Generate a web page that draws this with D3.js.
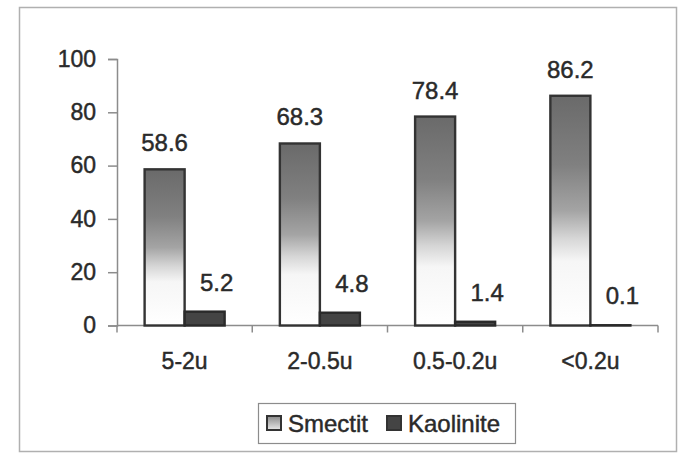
<!DOCTYPE html>
<html>
<head>
<meta charset="utf-8">
<script src="https://cdn.jsdelivr.net/npm/d3@7"></script>
<style>
  html, body { margin: 0; padding: 0; background: #fff; }
  svg { display: block; font-family: "Liberation Sans", Arial, sans-serif; }
  text { fill: #2a2a2a; stroke: #2a2a2a; stroke-width: 0.45px; }
</style>
</head>
<body>
<svg id="chart" width="679" height="459"></svg>
<script>
// Clay mineral content (%) by particle size fraction
const categories = ["5-2u", "2-0.5u", "0.5-0.2u", "<0.2u"];
const seriesNames = ["Smectit", "Kaolinite"];
const smectit = [58.6, 68.3, 78.4, 86.2];
const kaolinite = [5.2, 4.8, 1.4, 0.1];
const yTicks = [0, 20, 40, 60, 80, 100];

const svg = d3.select("#chart");

// chart frame
svg.append("rect")
  .attr("x", 19.5).attr("y", 7.5)
  .attr("width", 657).attr("height", 444)
  .attr("fill", "#fff").attr("stroke", "#b0b0b0").attr("stroke-width", 1.5);

const defs = svg.append("defs");
// vertical gradient for the Smectit bars
const grad = defs.append("linearGradient")
  .attr("id", "smGrad").attr("x1", 0).attr("y1", 0).attr("x2", 0).attr("y2", 1);
[[0, "#6a6a6a"], [0.3, "#808080"], [0.5, "#a4a4a4"], [0.62, "#d6d6d6"], [0.72, "#f6f6f6"], [1, "#ffffff"]]
  .forEach(([o, c]) => grad.append("stop").attr("offset", o).attr("stop-color", c));
// same shading for the legend swatch
const lgGrad = defs.append("linearGradient")
  .attr("id", "lgGrad").attr("x1", 0).attr("y1", 0).attr("x2", 0).attr("y2", 1);
[[0, "#8a8a8a"], [1, "#e8e8e8"]]
  .forEach(([o, c]) => lgGrad.append("stop").attr("offset", o).attr("stop-color", c));

const x0 = 117, x1 = 658, yTop = 59, yBase = 325.5;

const x = d3.scaleBand().domain(categories).range([x0, x1]).paddingInner(0).paddingOuter(0);
const xs = d3.scaleBand().domain(seriesNames).range([0, x.bandwidth()]).paddingInner(0).paddingOuter(0.69);
const y = d3.scaleLinear().domain([0, 100]).range([yBase, yTop]);

// y axis
const yAxis = svg.append("g")
  .attr("transform", `translate(${x0},0)`)
  .call(d3.axisLeft(y).tickValues(yTicks).tickSize(9).tickPadding(12));
yAxis.select(".domain").attr("stroke", "#8c8c8c").attr("stroke-width", 1.5);
yAxis.selectAll(".tick line").attr("stroke", "#8c8c8c").attr("stroke-width", 1.5);
yAxis.selectAll("text")
  .attr("font-size", 23).attr("fill", "#2a2a2a")
  .attr("font-family", "Liberation Sans, Arial, sans-serif");

// x axis with ticks at category boundaries
const xAxisG = svg.append("g");
xAxisG.append("line")
  .attr("x1", x0).attr("x2", x1).attr("y1", yBase).attr("y2", yBase)
  .attr("stroke", "#8c8c8c").attr("stroke-width", 1.5);
const bounds = categories.map(c => x(c)).concat([x1]);
xAxisG.selectAll("line.tk").data(bounds).join("line")
  .attr("class", "tk")
  .attr("x1", d => d).attr("x2", d => d)
  .attr("y1", yBase).attr("y2", yBase + 7)
  .attr("stroke", "#8c8c8c").attr("stroke-width", 1.5);
xAxisG.selectAll("text").data(categories).join("text")
  .attr("x", d => x(d) + x.bandwidth() / 2)
  .attr("y", 369)
  .attr("text-anchor", "middle")
  .attr("font-size", 23)
  .text(d => d);

// bars
const rows = categories.map((c, i) => ({ cat: c, Smectit: smectit[i], Kaolinite: kaolinite[i] }));
const groups = svg.append("g").selectAll("g").data(rows).join("g")
  .attr("transform", d => `translate(${x(d.cat)},0)`);

groups.append("rect")
  .attr("x", xs("Smectit")).attr("width", xs.bandwidth())
  .attr("y", d => y(d.Smectit)).attr("height", d => yBase - y(d.Smectit))
  .attr("fill", "url(#smGrad)").attr("stroke", "#333").attr("stroke-width", 2.4);

groups.append("rect")
  .attr("x", xs("Kaolinite")).attr("width", xs.bandwidth())
  .attr("y", d => y(d.Kaolinite)).attr("height", d => yBase - y(d.Kaolinite))
  .attr("fill", "#444").attr("stroke", "#2a2a2a").attr("stroke-width", 2.4);

// value labels
groups.append("text")
  .attr("x", xs("Smectit") + xs.bandwidth() / 2)
  .attr("y", d => y(d.Smectit) - 18)
  .attr("text-anchor", "middle").attr("font-size", 24)
  .text(d => d.Smectit.toFixed(1));

groups.append("text")
  .attr("x", xs("Kaolinite") + xs.bandwidth() / 2 + 12)
  .attr("y", d => y(d.Kaolinite) - 21)
  .attr("text-anchor", "middle").attr("font-size", 24)
  .text(d => d.Kaolinite.toFixed(1));

// legend
const lg = svg.append("g");
lg.append("rect")
  .attr("x", 258.5).attr("y", 403.5).attr("width", 257).attr("height", 40)
  .attr("fill", "#fff").attr("stroke", "#8c8c8c").attr("stroke-width", 1.2);
const legendItems = [
  { name: seriesNames[0], fill: "url(#lgGrad)", x: 267 },
  { name: seriesNames[1], fill: "#444", x: 387 }
];
legendItems.forEach(it => {
  lg.append("rect")
    .attr("x", it.x).attr("y", 416).attr("width", 14).attr("height", 14)
    .attr("fill", it.fill).attr("stroke", "#333").attr("stroke-width", 2);
  lg.append("text")
    .attr("x", it.x + 21).attr("y", 432)
    .attr("font-size", 24)
    .text(it.name);
});
</script>
</body>
</html>
